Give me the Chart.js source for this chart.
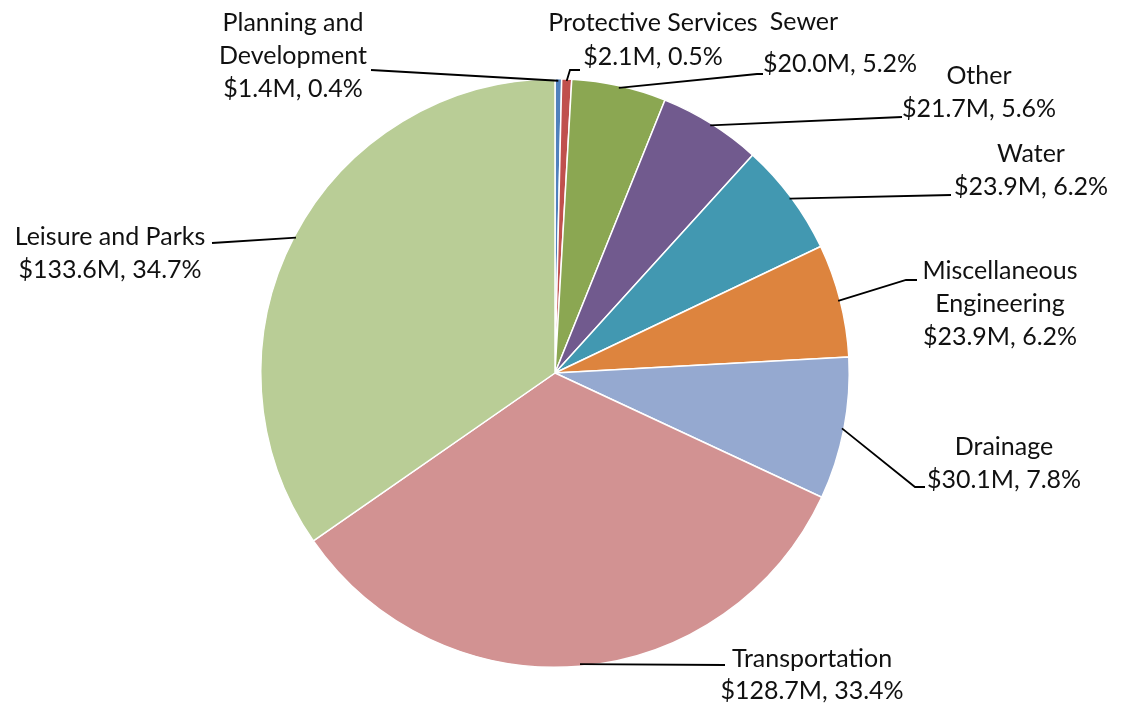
<!DOCTYPE html>
<html>
<head>
<meta charset="utf-8">
<script src="https://cdn.jsdelivr.net/npm/chart.js@4/dist/chart.umd.min.js"></script>
<style>
  html, body { margin: 0; padding: 0; background: #fff; }
  #wrap { width: 1127px; height: 709px; }
</style>
</head>
<body>
<div id="wrap"><canvas id="pie" width="1127" height="709"></canvas></div>
<script>
// data (clockwise from 12 o'clock)
const categories = [
  'Planning and\nDevelopment', 'Protective Services', 'Sewer', 'Other', 'Water',
  'Miscellaneous\nEngineering', 'Drainage', 'Transportation', 'Leisure and Parks'
];
const amounts = [1.4, 2.1, 20.0, 21.7, 23.9, 23.9, 30.1, 128.7, 133.6];   // $M
const percents = [0.4, 0.5, 5.2, 5.6, 6.2, 6.2, 7.8, 33.4, 34.7];
const colors = ['#4f81bd', '#c0504d', '#8ba752', '#715a8e', '#4298b1',
                '#dd843e', '#95a9d0', '#d29292', '#b9cd96'];

// label placement: x (per line or shared), y of first line, line gap, leader elbow points
const labelLayout = [
  { x: 293, y: 23, dy: 33, leader: [[371, 70]] },
  { x: 653, y: 23, dy: 34, leader: [[570, 70], [580, 70]] },
  { x: [804, 840], y: 22, dy: 42, leader: [[757, 74], [763, 74]] },
  { x: 979, y: 76, dy: 33, leader: [[902, 117]] },
  { x: 1031, y: 154, dy: 33, leader: [[951, 195]] },
  { x: 1000, y: 271, dy: 33, leader: [[906, 280], [917, 280]] },
  { x: 1004, y: 447, dy: 33, leader: [[915, 487], [925, 487]] },
  { x: 812, y: 659, dy: 32, leader: [[725, 665]] },
  { x: 110, y: 237, dy: 33, leader: [[212, 243]] }
];

const labelPlugin = {
  id: 'leaderLabels',
  afterDatasetsDraw(chart) {
    const ctx = chart.ctx;
    const arcs = chart.getDatasetMeta(0).data;
    ctx.save();
    ctx.font = '25px Lato, "Open Sans", sans-serif';
    ctx.fillStyle = '#111';
    ctx.textAlign = 'center';
    ctx.textBaseline = 'middle';
    arcs.forEach((arc, i) => {
      const lay = labelLayout[i];
      const mid = (arc.startAngle + arc.endAngle) / 2;
      const r = arc.outerRadius - 2;
      // leader line from slice edge
      ctx.strokeStyle = '#000';
      ctx.lineWidth = 1.8;
      ctx.beginPath();
      ctx.moveTo(arc.x + Math.cos(mid) * r, arc.y + Math.sin(mid) * r);
      lay.leader.forEach(p => ctx.lineTo(p[0], p[1]));
      ctx.stroke();

      const lines = categories[i].split('\n');
      lines.push('$' + amounts[i].toFixed(1) + 'M, ' + percents[i].toFixed(1) + '%');
      lines.forEach((txt, k) => {
        const x = Array.isArray(lay.x) ? lay.x[k] : lay.x;
        ctx.fillText(txt, x, lay.y + k * lay.dy);
      });
    });
    ctx.restore();
  }
};

new Chart(document.getElementById('pie'), {
  type: 'pie',
  data: {
    labels: categories,
    datasets: [{
      data: amounts,
      backgroundColor: colors,
      borderColor: '#ffffff',
      borderWidth: 1.5
    }]
  },
  options: {
    responsive: false,
    devicePixelRatio: 1,
    animation: false,
    layout: { padding: { left: 260, right: 277, top: 78, bottom: 41 } },
    plugins: {
      legend: { display: false },
      tooltip: { enabled: false }
    }
  },
  plugins: [labelPlugin]
});
</script>
</body>
</html>
